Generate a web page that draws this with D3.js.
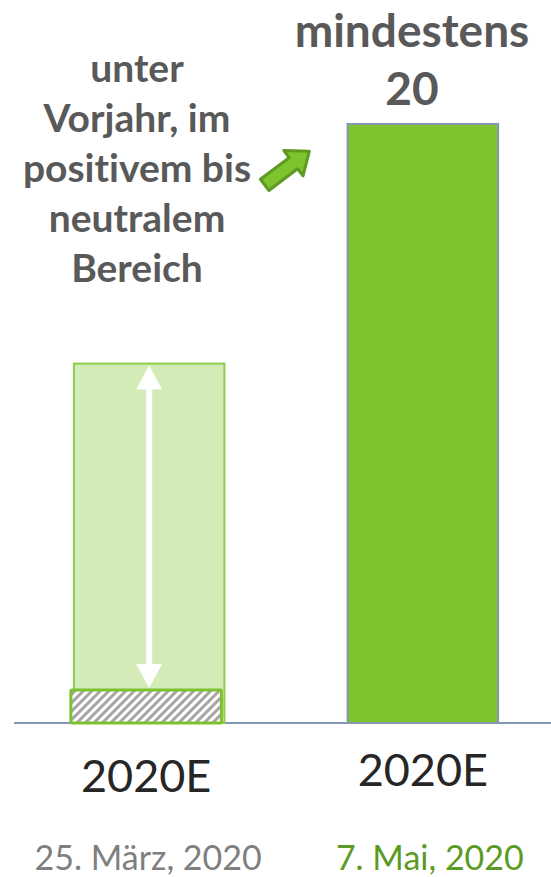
<!DOCTYPE html>
<html>
<head>
<meta charset="utf-8">
<script src="https://cdn.jsdelivr.net/npm/d3@7"></script>
<style>
  body { margin: 0; background: #fff; }
  text { font-family: Lato, "Open Sans", sans-serif; font-variant-ligatures: none; }
</style>
</head>
<body>
<script>
// Daten
const kategorien = ["links", "rechts"];
const achsenLabels = ["2020E", "2020E"];
const datumLabels = ["25. März, 2020", "7. Mai, 2020"];
const spanneOben = [12, 20];   // obere Grenze der Balken
const spanneUnten = [1.1, 0];  // schraffierter Sockel links
const notizLinks = ["unter", "Vorjahr, im", "positivem bis", "neutralem", "Bereich"];
const notizRechts = ["mindestens", "20"];

const width = 551, height = 877;
const svg = d3.select("body").append("svg")
  .attr("width", width).attr("height", height);

const defs = svg.append("defs");
const pat = defs.append("pattern")
  .attr("id", "schraffur")
  .attr("patternUnits", "userSpaceOnUse")
  .attr("width", 6).attr("height", 6)
  .attr("patternTransform", "rotate(45)");
pat.append("rect").attr("width", 6).attr("height", 6).attr("fill", "#fff");
pat.append("rect").attr("width", 3).attr("height", 6).attr("fill", "#a6a6a6");

const x = d3.scaleBand().domain(kategorien).range([0, 572]).paddingInner(0.45).paddingOuter(0.27);
const y = d3.scaleLinear().domain([0, 20]).range([723, 124]);

// Grundlinie
svg.append("line")
  .attr("x1", 14).attr("x2", width)
  .attr("y1", y(0)).attr("y2", y(0))
  .attr("stroke", "#8497b0").attr("stroke-width", 2);

// linker Balken (hell)
svg.append("rect")
  .attr("x", x("links")).attr("width", x.bandwidth())
  .attr("y", y(spanneOben[0])).attr("height", y(0) - y(spanneOben[0]))
  .attr("fill", "#d3ecb7").attr("stroke", "#8ccf4d").attr("stroke-width", 2);

// schraffierter Sockel
svg.append("rect")
  .attr("x", x("links") - 3).attr("width", x.bandwidth())
  .attr("y", y(spanneUnten[0])).attr("height", y(0) - y(spanneUnten[0]))
  .attr("fill", "url(#schraffur)").attr("stroke", "#7dc12e").attr("stroke-width", 3)
  .attr("rx", 1);

// Doppelpfeil weiß
const ax = x("links") + x.bandwidth() / 2;
const pfeilOben = y(spanneOben[0]) + 2, pfeilUnten = y(spanneUnten[0]) - 2;
svg.append("line")
  .attr("x1", ax).attr("x2", ax)
  .attr("y1", pfeilOben + 20).attr("y2", pfeilUnten - 20)
  .attr("stroke", "#fff").attr("stroke-width", 6);
svg.append("path")
  .attr("d", `M${ax},${pfeilOben} L${ax - 13},${pfeilOben + 24} L${ax + 13},${pfeilOben + 24} Z`)
  .attr("fill", "#fff");
svg.append("path")
  .attr("d", `M${ax},${pfeilUnten} L${ax - 13},${pfeilUnten - 24} L${ax + 13},${pfeilUnten - 24} Z`)
  .attr("fill", "#fff");

// rechter Balken
svg.append("rect")
  .attr("x", x("rechts")).attr("width", x.bandwidth())
  .attr("y", y(spanneOben[1])).attr("height", y(0) - y(spanneOben[1]))
  .attr("fill", "#7dc42e").attr("stroke", "#8497b0").attr("stroke-width", 2);

// Achsenbeschriftung
svg.selectAll(".achse").data(kategorien).enter().append("text")
  .attr("x", (d, i) => x(d) + x.bandwidth() / 2 + (i ? 0 : -3))
  .attr("y", (d, i) => i ? 786 : 792)
  .attr("text-anchor", "middle")
  .attr("font-size", 45).attr("fill", "#262626")
  .text((d, i) => achsenLabels[i]);

svg.selectAll(".datum").data(kategorien).enter().append("text")
  .attr("x", (d, i) => x(d) + x.bandwidth() / 2 + (i ? 7 : -1))
  .attr("y", 870)
  .attr("text-anchor", "middle")
  .attr("font-size", 34)
  .attr("fill", (d, i) => i ? "#5b9b25" : "#7f7f7f")
  .text((d, i) => datumLabels[i]);

// Notizen
svg.selectAll(".notizL").data(notizLinks).enter().append("text")
  .attr("x", 137).attr("y", (d, i) => 82 + i * 50)
  .attr("text-anchor", "middle")
  .attr("font-size", 39).attr("font-weight", "bold").attr("fill", "#595959")
  .text(d => d);

svg.selectAll(".notizR").data(notizRechts).enter().append("text")
  .attr("x", 412).attr("y", (d, i) => 47 + i * 58)
  .attr("text-anchor", "middle")
  .attr("font-size", 46).attr("font-weight", "bold").attr("fill", "#595959")
  .text(d => d);

// grüner Pfeil
const gp = svg.append("g").attr("transform", "translate(287,168) rotate(-37)");
gp.append("path")
  .attr("d", "M-28,-7 L8,-7 L8,-16 L28,0 L8,16 L8,7 L-28,7 Z")
  .attr("fill", "#7dc42e").attr("stroke", "#5e9a1f").attr("stroke-width", 3)
  .attr("stroke-linejoin", "round");
</script>
</body>
</html>
